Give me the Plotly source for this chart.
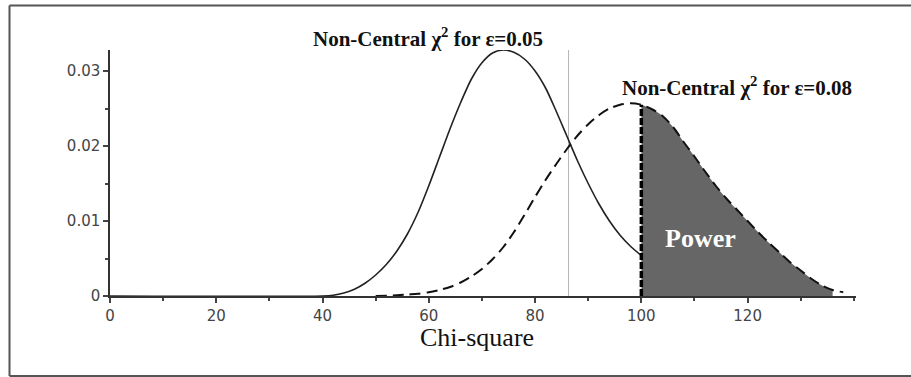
import plotly.graph_objects as go

# ---- data ----
x_eps05 = [0, 40, 42, 44, 46, 48, 50, 52, 54, 56, 58, 60, 62, 64, 66, 68, 70, 72, 74,
           76, 78, 80, 82, 84, 86, 88, 90, 92, 94, 96, 98, 100]
y_eps05 = [0, 0, 0.0001, 0.0004, 0.0009, 0.0017, 0.0028, 0.0042, 0.0060, 0.0083, 0.0112,
           0.0147, 0.0185, 0.0223, 0.0258, 0.0289, 0.0311, 0.0324, 0.0328, 0.0325, 0.0316,
           0.0300, 0.0277, 0.0246, 0.0213, 0.0180, 0.0150, 0.0123, 0.0100, 0.0081, 0.0066,
           0.0054]

x_eps08 = [50, 54, 56, 58, 60, 62, 64, 66, 68, 70, 72, 74, 76, 78, 80, 82, 84, 86, 88, 90,
           92, 94, 96, 98, 100, 102, 104, 106, 108, 110, 112, 114, 116, 118, 120, 122, 124,
           126, 128, 130, 132, 134, 136, 138]
y_eps08 = [0.0000, 0.0001, 0.0002, 0.0003, 0.0005, 0.0008, 0.0012, 0.0018, 0.0026, 0.0036,
           0.0049, 0.0065, 0.0085, 0.0108, 0.0132, 0.0155, 0.0176, 0.0196, 0.0214, 0.0229,
           0.0241, 0.0250, 0.0255, 0.0257, 0.0255, 0.0249, 0.0240, 0.0225, 0.0205, 0.0186,
           0.0166, 0.0147, 0.0130, 0.0115, 0.0100, 0.0085, 0.0071, 0.0058, 0.0045, 0.0034,
           0.0023, 0.0014, 0.0008, 0.0005]

critical_value = 100      # rejection boundary
grey_line_x = 86.3        # thin grey reference line
grey_line_top = 0.0335

x_ticks = [0, 20, 40, 60, 80, 100, 120]
y_ticks = [0, 0.01, 0.02, 0.03]
y_tick_labels = ["0", "0.01", "0.02", "0.03"]

# ---- figure ----
fig = go.Figure()

# Power area (shaded)
px_fill = [x for x in x_eps08 if critical_value <= x <= 137]
py_fill = [y for x, y in zip(x_eps08, y_eps08) if critical_value <= x <= 137]
fig.add_trace(go.Scatter(x=px_fill, y=py_fill, mode="lines", fill="tozeroy",
                         fillcolor="#666666", line=dict(width=0, color="#666666"),
                         line_shape="spline", hoverinfo="skip", showlegend=False))

# grey vertical line
fig.add_trace(go.Scatter(x=[grey_line_x, grey_line_x], y=[0, grey_line_top], mode="lines",
                         line=dict(color="#b5b5b5", width=1), showlegend=False,
                         cliponaxis=False))

# eps=0.05 curve (solid)
fig.add_trace(go.Scatter(x=x_eps05, y=y_eps05, mode="lines", line_shape="spline",
                         line=dict(color="#222222", width=1.6, smoothing=0.8),
                         showlegend=False))

# eps=0.08 curve (dashed)
fig.add_trace(go.Scatter(x=x_eps08, y=y_eps08, mode="lines", line_shape="spline",
                         line=dict(color="#111111", width=2, dash="11px,6px", smoothing=0.8),
                         showlegend=False))

# vertical dashed line at critical value
crit_top = y_eps08[x_eps08.index(critical_value)]
fig.add_trace(go.Scatter(x=[critical_value, critical_value], y=[0, crit_top], mode="lines",
                         line=dict(color="#000000", width=3.5, dash="7px,2px"),
                         showlegend=False))

serif = "Liberation Serif, Times New Roman, serif"
common = dict(xref="paper", yref="paper", xanchor="center", yanchor="middle",
              showarrow=False)
fig.add_annotation(x=0.4263, y=1.049, text="<b>Non-Central χ<sup>2</sup> for ε=0.05</b>",
                   font=dict(family=serif, size=21, color="#111111"), **common)
fig.add_annotation(x=0.8405, y=0.8496, text="<b>Non-Central χ<sup>2</sup> for ε=0.08</b>",
                   font=dict(family=serif, size=21, color="#111111"), **common)
fig.add_annotation(x=0.7916, y=0.2337, text="<b>Power</b>",
                   font=dict(family=serif, size=26, color="#ffffff"), **common)
fig.add_annotation(x=0.4913, y=-0.1675, text="Chi-square",
                   font=dict(family=serif, size=26, color="#111111"), **common)

# outer frame (left, top, bottom edges visible)
fl, fr = (9.5 - 110) / 746, (930 - 110) / 746
ft, fb = (296 - 5.5) / 246, (296 - 376) / 246
for x0, y0, x1, y1 in [(fl, fb, fl, ft), (fl, ft, fr, ft), (fl, fb, fr, fb)]:
    fig.add_shape(type="line", xref="paper", yref="paper", x0=x0, y0=y0, x1=x1, y1=y1,
                  line=dict(color="#555555", width=2))

tickfont = dict(family="DejaVu Sans, Verdana, sans-serif", size=15, color="#444444")
fig.update_xaxes(range=[0, 140.4], tickvals=x_ticks, ticks="outside", ticklen=5,
                 tickwidth=1.5, tickcolor="#444444", showline=True, linecolor="#333333",
                 linewidth=1.5, showgrid=False, zeroline=False, tickfont=tickfont,
                 minor=dict(dtick=10, tick0=0, ticks="outside", ticklen=3,
                            tickcolor="#444444", tickwidth=1.5, showgrid=False))
fig.update_yaxes(range=[0, 0.0328], tickvals=y_ticks, ticktext=y_tick_labels,
                 ticks="outside", ticklen=5, tickwidth=1.5, tickcolor="#444444",
                 showline=True, linecolor="#333333", linewidth=1.5, showgrid=False,
                 zeroline=False, tickfont=tickfont,
                 minor=dict(dtick=0.005, tick0=0, ticks="outside", ticklen=3,
                            tickcolor="#444444", tickwidth=1.5, showgrid=False))

fig.update_layout(width=911, height=377, margin=dict(l=110, r=55, t=50, b=81),
                  plot_bgcolor="white", paper_bgcolor="white", showlegend=False)

fig.write_html("out.html")
